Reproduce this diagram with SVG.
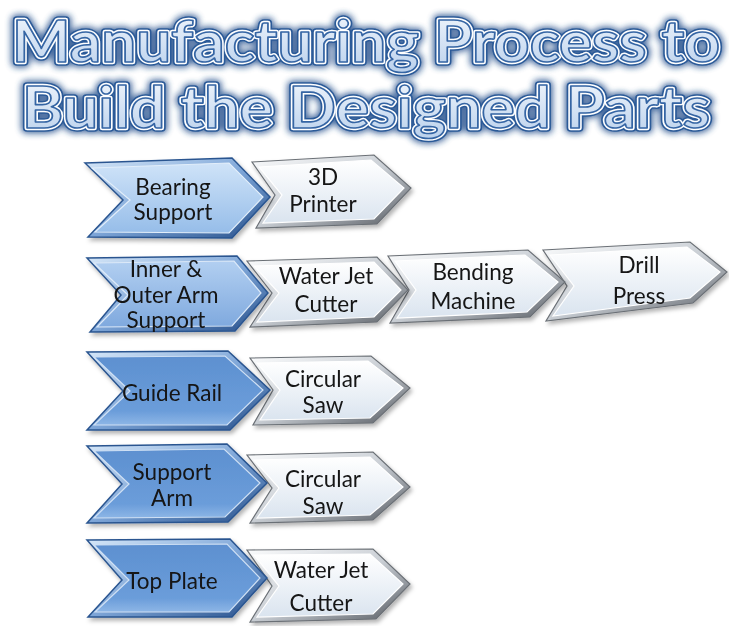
<svg xmlns="http://www.w3.org/2000/svg" xmlns:xlink="http://www.w3.org/1999/xlink" width="729" height="626" viewBox="0 0 729 626">
<style>
.lbl{font-family:Lato,"Liberation Sans",sans-serif;font-size:22.5px;fill:#141414;text-anchor:middle}
.ttl{font-family:Lato,"Liberation Sans",sans-serif;font-size:57px;font-weight:bold}
.bOut{fill:url(#bBevel);stroke:#2a5590;stroke-width:1.5}
.wOut{fill:url(#wBevel);stroke:#6b7076;stroke-width:1.2}
.wIn{fill:url(#wFill);stroke:#ffffff;stroke-width:1.2}
.b1{fill:url(#bFill1);stroke:#e2eefa;stroke-width:1.2}
.b2{fill:url(#bFill2);stroke:#dce9f8;stroke-width:1.2}
.b3{fill:url(#bFill3);stroke:#cfe0f4;stroke-width:1.2}
.sh{filter:url(#shadow)}
</style>
<defs>
<linearGradient id="bBevel" x1="0" y1="0" x2="1" y2="1">
<stop offset="0" stop-color="#d6e7f8"/><stop offset="0.5" stop-color="#7ea6d8"/><stop offset="1" stop-color="#244d88"/>
</linearGradient>
<linearGradient id="wBevel" x1="0" y1="0" x2="1" y2="1">
<stop offset="0" stop-color="#fbfcfd"/><stop offset="0.5" stop-color="#c9ced4"/><stop offset="1" stop-color="#50555c"/>
</linearGradient>
<linearGradient id="wFill" x1="0" y1="0" x2="0" y2="1">
<stop offset="0" stop-color="#ffffff"/><stop offset="1" stop-color="#dae4ef"/>
</linearGradient>
<linearGradient id="bFill1" x1="0" y1="0" x2="0" y2="1">
<stop offset="0" stop-color="#cfe3f8"/><stop offset="1" stop-color="#96bde9"/>
</linearGradient>
<linearGradient id="bFill2" x1="0" y1="0" x2="0" y2="1">
<stop offset="0" stop-color="#b2cff1"/><stop offset="1" stop-color="#7fa9de"/>
</linearGradient>
<linearGradient id="bFill3" x1="0" y1="0" x2="0" y2="1">
<stop offset="0" stop-color="#5d90d0"/><stop offset="0.8" stop-color="#6b9dda"/><stop offset="1" stop-color="#8db6e6"/>
</linearGradient>
<linearGradient id="tFill" x1="0" y1="0" x2="0" y2="1">
<stop offset="0" stop-color="#f4f8fd"/><stop offset="1" stop-color="#b9d0ec"/>
</linearGradient>
<filter id="shadow" x="-10%" y="-10%" width="130%" height="140%">
<feDropShadow dx="2" dy="3" stdDeviation="2" flood-color="#000" flood-opacity="0.3"/>
</filter>
<filter id="glow" x="-5%" y="-20%" width="110%" height="140%">
<feGaussianBlur stdDeviation="3"/>
</filter>
<text id="t1" class="ttl" x="12" y="62" textLength="708" lengthAdjust="spacingAndGlyphs">Manufacturing Process to</text>
<text id="t2" class="ttl" x="22" y="128" textLength="688" lengthAdjust="spacingAndGlyphs">Build the Designed Parts</text>
</defs>
<rect width="729" height="626" fill="#ffffff"/>

<g id="title">
<use xlink:href="#t1" fill="none" stroke="#1d4a88" stroke-width="11" stroke-linejoin="round" filter="url(#glow)" opacity="0.8"/>
<use xlink:href="#t1" fill="none" stroke="#2b5a98" stroke-width="7.5" stroke-linejoin="round"/>
<use xlink:href="#t1" fill="none" stroke="#ffffff" stroke-width="4.5" stroke-linejoin="round"/>
<use xlink:href="#t1" fill="url(#tFill)" stroke="#3565a4" stroke-width="1.6" stroke-linejoin="round"/>
<use xlink:href="#t2" fill="none" stroke="#1d4a88" stroke-width="11" stroke-linejoin="round" filter="url(#glow)" opacity="0.8"/>
<use xlink:href="#t2" fill="none" stroke="#2b5a98" stroke-width="7.5" stroke-linejoin="round"/>
<use xlink:href="#t2" fill="none" stroke="#ffffff" stroke-width="4.5" stroke-linejoin="round"/>
<use xlink:href="#t2" fill="url(#tFill)" stroke="#3565a4" stroke-width="1.6" stroke-linejoin="round"/>
</g>

<g id="connectors"></g>

<!-- Row 1 -->
<g id="printer3d" class="sh">
<polygon class="wOut" points="252,162 374,155 411,188 377,224 256,228 275,195"/>
<polygon class="wIn" points="259,167 371,160 404,188 374,219 263,223 282,195"/>
<text class="lbl" x="323" y="185">3D</text>
<text class="lbl" x="323" y="212">Printer</text>
</g>
<g id="bearingSupport" class="sh">
<polygon class="bOut" points="85,163 232,158 270,197 232,238 88,237 123,200"/>
<polygon class="b1" points="92,168 229,163 263,197 229,233 95,232 130,200"/>
<text class="lbl" x="173" y="195">Bearing</text>
<text class="lbl" x="173" y="220">Support</text>
</g>

<!-- Row 2 -->
<g id="drillPress" class="sh">
<polygon class="wOut" points="543,250 690,242 727,272 693,303 546,321 567,286"/>
<polygon class="wIn" points="550,255 687,247 720,272 690,298 553,316 574,286"/>
<text class="lbl" x="639" y="273">Drill</text>
<text class="lbl" x="639" y="304">Press</text>
</g>
<g id="bendingMachine" class="sh">
<polygon class="wOut" points="388,256 528,250 565,282 530,317 390,323 409,290"/>
<polygon class="wIn" points="395,261 525,255 558,282 527,312 397,318 416,290"/>
<text class="lbl" x="473" y="280">Bending</text>
<text class="lbl" x="473" y="309">Machine</text>
</g>
<g id="waterJet1" class="sh">
<polygon class="wOut" points="247,261 377,257 408,290 377,322 250,327 272,293"/>
<polygon class="wIn" points="254,266 374,262 401,290 374,317 257,322 279,293"/>
<text class="lbl" x="326" y="284">Water Jet</text>
<text class="lbl" x="326" y="312">Cutter</text>
</g>
<g id="innerOuterArm" class="sh">
<polygon class="bOut" points="87,258 237,256 268,293 235,331 90,332 121,295"/>
<polygon class="b2" points="94,263 234,261 261,293 232,326 97,327 128,295"/>
<text class="lbl" x="166" y="277">Inner &amp;</text>
<text class="lbl" x="166" y="303">Outer Arm</text>
<text class="lbl" x="166" y="328">Support</text>
</g>

<!-- Row 3 -->
<g id="circularSaw1" class="sh">
<polygon class="wOut" points="250,358 371,356 410,388 373,423 253,425 273,390"/>
<polygon class="wIn" points="257,363 368,361 403,388 370,418 260,420 280,390"/>
<text class="lbl" x="323" y="387">Circular</text>
<text class="lbl" x="323" y="413">Saw</text>
</g>
<g id="guideRail" class="sh">
<polygon class="bOut" points="87,352 228,351 270,390 230,430 87,430 123,391"/>
<polygon class="b3" points="94,357 225,356 263,390 227,425 94,425 130,391"/>
<text class="lbl" x="172" y="401">Guide Rail</text>
</g>

<!-- Row 4 -->
<g id="circularSaw2" class="sh">
<polygon class="wOut" points="247,455 373,452 410,487 373,520 250,523 272,488"/>
<polygon class="wIn" points="254,460 370,457 403,487 370,515 257,518 279,488"/>
<text class="lbl" x="323" y="487">Circular</text>
<text class="lbl" x="323" y="514">Saw</text>
</g>
<g id="supportArm" class="sh">
<polygon class="bOut" points="87,446 227,444 267,483 228,522 87,523 122,484"/>
<polygon class="b3" points="94,451 224,449 260,483 225,517 94,518 129,484"/>
<text class="lbl" x="172" y="480">Support</text>
<text class="lbl" x="172" y="506">Arm</text>
</g>

<!-- Row 5 -->
<g id="waterJet2" class="sh">
<polygon class="wOut" points="247,550 373,549 410,584 376,619 250,622 272,586"/>
<polygon class="wIn" points="254,555 370,554 403,584 373,614 257,617 279,586"/>
<text class="lbl" x="321" y="578">Water Jet</text>
<text class="lbl" x="321" y="611">Cutter</text>
</g>
<g id="topPlate" class="sh">
<polygon class="bOut" points="87,540 230,539 267,578 232,617 88,617 122,580"/>
<polygon class="b3" points="94,545 227,544 260,578 229,612 95,612 129,580"/>
<text class="lbl" x="172" y="589">Top Plate</text>
</g>
</svg>
